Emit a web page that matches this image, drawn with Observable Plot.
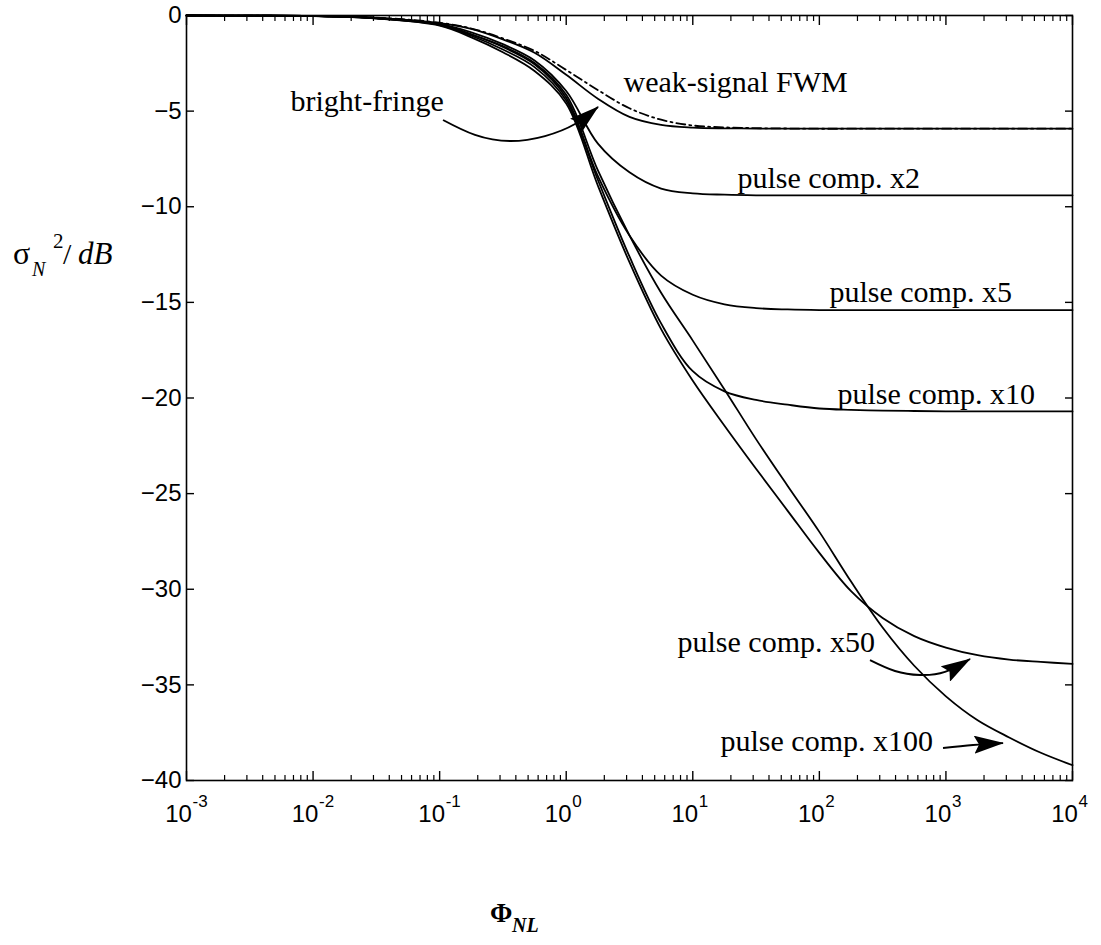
<!DOCTYPE html>
<html><head><meta charset="utf-8">
<script src="https://cdn.jsdelivr.net/npm/d3@7"></script>
<script src="https://cdn.jsdelivr.net/npm/@observablehq/plot@0.6"></script>
<style>body{margin:0;background:#fff;overflow:hidden}#chart svg{display:block}</style>
</head><body><div id="chart"></div>
<script>
// ---- data ----
const phi = [0.001, 0.00316, 0.01, 0.0316, 0.1, 0.178, 0.316, 0.562, 1, 1.78, 3.16, 5.62, 10, 17.8, 31.6, 56.2, 100, 178, 316, 562, 1000, 1780, 3160, 5620, 10000];
const brightFringe = [0, -0.01, -0.03, -0.12, -0.4, -0.7, -1.25, -1.95, -3.1, -4.35, -5.3, -5.72, -5.86, -5.9, -5.91, -5.92, -5.92, -5.92, -5.92, -5.92, -5.92, -5.92, -5.92, -5.92, -5.92];
const weakSignalFWM = [0, -0.01, -0.03, -0.11, -0.38, -0.68, -1.2, -1.85, -2.85, -3.9, -4.85, -5.45, -5.75, -5.85, -5.89, -5.91, -5.92, -5.92, -5.92, -5.92, -5.92, -5.92, -5.92, -5.92, -5.92];
const comp2 = [0, -0.01, -0.03, -0.13, -0.44, -0.88, -1.5, -2.35, -3.95, -6.7, -8.2, -9.05, -9.3, -9.37, -9.4, -9.4, -9.4, -9.4, -9.4, -9.4, -9.4, -9.4, -9.4, -9.4, -9.4];
const comp5 = [0, -0.01, -0.03, -0.14, -0.47, -0.98, -1.65, -2.55, -4.3, -8.4, -11.5, -13.6, -14.6, -15.1, -15.3, -15.37, -15.4, -15.4, -15.4, -15.4, -15.4, -15.4, -15.4, -15.4, -15.4];
const comp10 = [0, -0.01, -0.03, -0.15, -0.5, -1.06, -1.78, -2.7, -4.45, -8.6, -12.6, -16.1, -18.6, -19.65, -20.1, -20.35, -20.55, -20.62, -20.66, -20.68, -20.7, -20.7, -20.7, -20.7, -20.7];
const comp50 = [0, -0.01, -0.03, -0.16, -0.53, -1.14, -1.92, -2.9, -4.6, -8.9, -12.9, -16.4, -19.1, -21.45, -23.7, -25.9, -28.1, -30.1, -31.5, -32.45, -33.05, -33.45, -33.68, -33.8, -33.9];
const comp100 = [0, -0.01, -0.03, -0.13, -0.46, -1.0, -1.6, -2.48, -4.15, -8.1, -11.5, -14.5, -17.0, -19.55, -22.15, -24.6, -27.0, -29.6, -32.0, -34.0, -35.6, -36.85, -37.75, -38.55, -39.2];

const xMajorTicks = [1e-3, 1e-2, 1e-1, 1, 10, 100, 1000, 10000];
const xExponents = ["-3", "-2", "-1", "0", "1", "2", "3", "4"];
const minorMultipliers = [2, 3, 4, 5, 6, 7, 8, 9];
const yTicks = [0, -5, -10, -15, -20, -25, -30, -35, -40];

const labelTexts = ["bright-fringe", "weak-signal FWM", "pulse comp. x2", "pulse comp. x5", "pulse comp. x10", "pulse comp. x50", "pulse comp. x100"];
const labelPhi = [0.00663, 2.836, 22.56, 120.2, 139.1, 7.574, 16.56];
const labelDb = [-4.47, -3.52, -8.54, -14.50, -19.79, -32.80, -37.93];

// annotation arrows (data coordinates)
const arrowId = ["a1","a1","a1","a1","a1","a1","a2","a2","a2","a2","a2","a3","a3","a3"];
const arrowPhi = [0.1073, 0.192, 0.3629, 0.686, 1.184, 1.80, 253.6, 399.6, 629.6, 992, 1564, 957, 1652, 2851];
const arrowDb = [-5.49, -6.27, -6.59, -6.33, -5.70, -4.81, -33.73, -34.30, -34.51, -34.35, -33.67, -38.33, -38.17, -38.07];

// ---- tables ----
const solidSeries = [["bright-fringe", brightFringe], ["x2", comp2], ["x5", comp5], ["x10", comp10], ["x50", comp50], ["x100", comp100]];
const solidRows = solidSeries.flatMap(([name, vals]) => phi.map((p, i) => ({series: name, phi: p, db: vals[i]})));
const fwmRows = phi.map((p, i) => ({series: "FWM", phi: p, db: weakSignalFWM[i]}));
const labels = labelTexts.map((t, i) => ({text: t, phi: labelPhi[i], db: labelDb[i]}));
const arrows = arrowId.map((id, i) => ({id, phi: arrowPhi[i], db: arrowDb[i]}));
const xMinorTicks = xMajorTicks.slice(0, -1).flatMap(t => minorMultipliers.map(m => t * m));
const expOf = new Map(xMajorTicks.map((t, i) => [t, xExponents[i]]));

const serif = "'Liberation Serif', 'Times New Roman', serif";

const plot = Plot.plot({
  width: 1101,
  height: 945,
  marginLeft: 186,
  marginRight: 29,
  marginTop: 15,
  marginBottom: 165,
  style: {fontFamily: "'Liberation Sans', Arial, sans-serif", background: "white", overflow: "visible"},
  x: {type: "log", domain: [1e-3, 1e4], label: null},
  y: {domain: [-40, 0], label: null},
  marks: [
    Plot.line(solidRows, {x: "phi", y: "db", z: "series", stroke: "#000", strokeWidth: 1.8, curve: "catmull-rom"}),
    Plot.line(fwmRows, {x: "phi", y: "db", stroke: "#000", strokeWidth: 1.8, strokeDasharray: "9,4,2,4", curve: "catmull-rom"}),
    Plot.frame({stroke: "#000", strokeWidth: 1.6}),
    Plot.axisX(xMajorTicks, {anchor: "bottom", tickSize: -9, text: null, label: null, strokeWidth: 1.4}),
    Plot.axisX(xMinorTicks, {anchor: "bottom", tickSize: -5, text: null, label: null, strokeWidth: 1.2}),
    Plot.axisX(xMajorTicks, {anchor: "top", tickSize: -9, text: null, label: null, strokeWidth: 1.4}),
    Plot.axisX(xMinorTicks, {anchor: "top", tickSize: -5, text: null, label: null, strokeWidth: 1.2}),
    Plot.axisY(yTicks, {anchor: "left", tickSize: -8, text: null, label: null, strokeWidth: 1.4}),
    Plot.axisY(yTicks, {anchor: "right", tickSize: -8, text: null, label: null, strokeWidth: 1.4}),
    Plot.axisX(xMajorTicks, {anchor: "bottom", tickSize: 0, tickPadding: 24, fontSize: 24, fill: "#000", label: null,
      dx: -8, tickFormat: () => "10"}),
    Plot.axisX(xMajorTicks, {anchor: "bottom", tickSize: 0, tickPadding: 14, fontSize: 17, fill: "#000", label: null,
      dx: 6, textAnchor: "start", tickFormat: d => expOf.get(d)}),
    Plot.axisY(yTicks, {anchor: "left", tickSize: 0, tickPadding: 5, fontSize: 24, fill: "#000", label: null,
      tickFormat: d => d === 0 ? "0" : "\u2212" + Math.abs(d)}),
    Plot.text(labels, {x: "phi", y: "db", text: "text", textAnchor: "start", fontFamily: serif, fontSize: 30, fill: "#000"})
  ]
});

document.getElementById("chart").appendChild(plot);
const svg = d3.select(plot);

// annotation arrows, positioned through the plot's own scales
try {
  const sx = plot.scale("x"), sy = plot.scale("y");
  const defs = svg.append("defs");
  defs.append("marker").attr("id", "ahead").attr("viewBox", "0 0 30 18")
    .attr("refX", 29).attr("refY", 9).attr("markerWidth", 30).attr("markerHeight", 18)
    .attr("markerUnits", "userSpaceOnUse").attr("orient", "auto")
    .append("path").attr("d", "M0,0L30,9L0,18L5,9Z").attr("fill", "#000");
  const gen = d3.line().x(d => sx.apply(d.phi)).y(d => sy.apply(d.db)).curve(d3.curveNatural);
  const ga = svg.append("g").attr("fill", "none").attr("stroke", "#000").attr("stroke-width", 1.9);
  for (const [, pts] of d3.group(arrows, d => d.id)) {
    ga.append("path").attr("d", gen(pts)).attr("marker-end", "url(#ahead)");
  }
} catch (e) { console.error(e); }

// axis titles
const yT = svg.append("g").attr("font-family", serif).attr("fill", "#000").attr("text-anchor", "start").style("text-anchor", "start");
yT.append("text").attr("x", 13).attr("y", 264).attr("font-size", 32).text("\u03c3");
yT.append("text").attr("x", 32).attr("y", 276).attr("font-size", 20).attr("font-style", "italic").text("N");
yT.append("text").attr("x", 53).attr("y", 248).attr("font-size", 21).text("2");
yT.append("text").attr("x", 63).attr("y", 264).attr("font-size", 30).text("/");
yT.append("text").attr("x", 78).attr("y", 264).attr("font-size", 31).attr("font-style", "italic").text("dB");

const xT = svg.append("g").attr("font-family", serif).attr("fill", "#000").attr("text-anchor", "start").style("text-anchor", "start");
xT.append("text").attr("x", 490).attr("y", 922).attr("font-size", 27).attr("font-weight", "bold").text("\u03a6");
xT.append("text").attr("x", 512).attr("y", 932).attr("font-size", 20).attr("font-style", "italic").attr("font-weight", "bold").text("NL");
</script>
</body></html>
